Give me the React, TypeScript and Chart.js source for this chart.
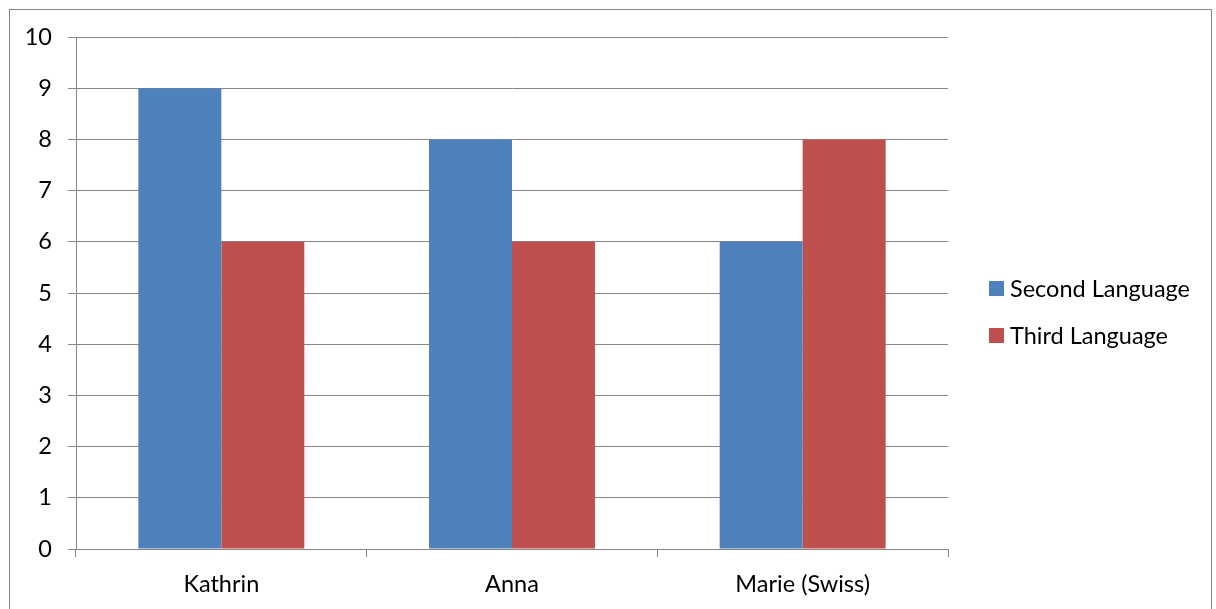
import React, { useEffect, useRef } from "react";
import { Chart, registerables } from "chart.js";

Chart.register(...registerables);

const categories = ["Kathrin", "Anna", "Marie (Swiss)"];
const secondLanguage = [9, 8, 6];
const thirdLanguage = [6, 6, 8];
const seriesNames = ["Second Language", "Third Language"];
const seriesColors = ["#4F81BD", "#C0504D"];

const FONT = "Lato";
const FONT_SIZE = 23.5;
const CW = 1201;
const CH = 599;

const legendPlugin = {
  id: "customLegend",
  afterDraw(chart: any) {
    const ctx = chart.ctx;
    const area = chart.chartArea;
    const x = area.right + 41;
    const y0 = 271;
    const gap = 47;
    ctx.save();
    ctx.font = `${FONT_SIZE}px ${FONT}`;
    ctx.textBaseline = "middle";
    ctx.textAlign = "left";
    chart.data.datasets.forEach((ds: any, i: number) => {
      const y = y0 + i * gap;
      ctx.fillStyle = ds.backgroundColor;
      ctx.fillRect(x, y, 15, 15);
      ctx.fillStyle = "#000";
      ctx.fillText(ds.label, x + 21, y + 8);
    });
    ctx.restore();
  },
};

export default function App() {
  const ref = useRef<HTMLCanvasElement>(null);
  useEffect(() => {
    if (!ref.current) return;
    const chart = new Chart(ref.current, {
      type: "bar",
      data: {
        labels: categories,
        datasets: [
          { label: seriesNames[0], data: secondLanguage, backgroundColor: seriesColors[0] },
          { label: seriesNames[1], data: thirdLanguage, backgroundColor: seriesColors[1] },
        ],
      },
      options: {
        responsive: false,
        animation: false,
        devicePixelRatio: 1,
        layout: { padding: { top: 27, right: CW - 938, left: 0, bottom: 0 } },
        datasets: { bar: { categoryPercentage: 0.571, barPercentage: 1, borderWidth: 0 } },
        plugins: { legend: { display: false }, tooltip: { enabled: false } },
        scales: {
          x: {
            offset: true,
            grid: { offset: true, drawOnChartArea: false, drawTicks: true, tickLength: 8, color: "#868686" },
            border: { display: true, color: "#868686" },
            ticks: { color: "#000", font: { family: FONT, size: FONT_SIZE }, padding: 13, maxRotation: 0 },
            afterFit: (s: any) => {
              s.height = CH - 539;
              s.paddingLeft = 0;
              s.paddingRight = 0;
            },
          },
          y: {
            min: 0,
            max: 10,
            ticks: { stepSize: 1, color: "#000", font: { family: FONT, size: FONT_SIZE }, padding: 16 },
            grid: { color: "#868686", tickLength: 8 },
            border: { display: true, color: "#868686" },
            afterFit: (s: any) => {
              s.width = 66;
              s.paddingTop = 0;
              s.paddingBottom = 0;
            },
          },
        },
      },
      plugins: [legendPlugin],
    });
    return () => chart.destroy();
  }, []);
  return (
    <div
      style={{
        position: "absolute",
        left: 9,
        top: 9,
        width: 1203,
        height: 620,
        border: "1px solid #868686",
        boxSizing: "border-box",
        background: "#fff",
      }}
    >
      <canvas ref={ref} width={CW} height={CH} style={{ display: "block" }} />
    </div>
  );
}
